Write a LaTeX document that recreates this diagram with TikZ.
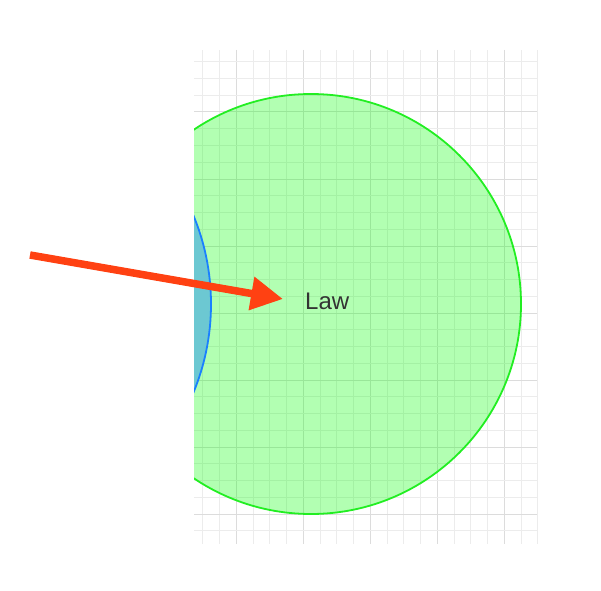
\documentclass[tikz,border=0pt]{standalone}
\usepackage{fontspec}
\setmainfont{Liberation Sans}
\usetikzlibrary{arrows.meta}
\definecolor{gridc}{HTML}{ECECEC}
\definecolor{gridd}{HTML}{DCDCDC}
\definecolor{lawfill}{HTML}{00FF00}
\definecolor{lawline}{HTML}{22EE22}
\definecolor{bluefill}{HTML}{6CC8D2}
\definecolor{blueline}{HTML}{1A80FF}
\definecolor{arrowc}{HTML}{FF4112}
\definecolor{txt}{HTML}{333333}
\tikzset{
  gridline/.style={draw=gridc, line width=0.8bp},
  gridmajor/.style={draw=gridd, line width=0.9bp},
  lawcircle/.style={circle, draw=lawline, line width=1.8bp, fill=lawfill, fill opacity=0.3, draw opacity=1, minimum size=420bp, inner sep=0pt},
  bluecircle/.style={circle, draw=blueline, line width=1.8bp, fill=bluefill, minimum size=462bp, inner sep=0pt},
  label/.style={font=\fontsize{24bp}{28bp}\selectfont, text=txt, inner sep=0pt},
  redarrow/.style={draw=arrowc, line width=7.5bp, -{Triangle[length=32bp,width=32bp]}}
}
\begin{document}
\begin{tikzpicture}[x=1bp,y=-1bp]
\useasboundingbox (0,0) rectangle (601,591);
% grid
\foreach \k in {0,...,19}{
  \pgfmathsetmacro{\xx}{202.7+16.75*\k}
  \pgfmathtruncatemacro{\m}{mod(\k,4)}
  \ifnum\m=2 \draw[gridmajor] (\xx,50) -- (\xx,544); \else \draw[gridline] (\xx,50) -- (\xx,544); \fi
}
\draw[gridline] (537,50) -- (537,544);
\foreach \k in {0,...,28}{
  \pgfmathsetmacro{\yy}{61.7+16.75*\k}
  \pgfmathtruncatemacro{\m}{mod(\k,4)}
  \ifnum\m=3 \draw[gridmajor] (194,\yy) -- (537,\yy); \else \draw[gridline] (194,\yy) -- (537,\yy); \fi
}
\begin{scope}
\clip (194,0) rectangle (601,591);
\node[lawcircle] (lawc) at (311,304) {};
\node[bluecircle] (blue) at (-20,304) {};
\end{scope}
\node[label, anchor=west] (law) at (305,301) {Law};
\coordinate (start) at (30,255);
\coordinate (tip) at (283,299);
\draw[redarrow] (start) -- (tip);
\end{tikzpicture}
\end{document}
